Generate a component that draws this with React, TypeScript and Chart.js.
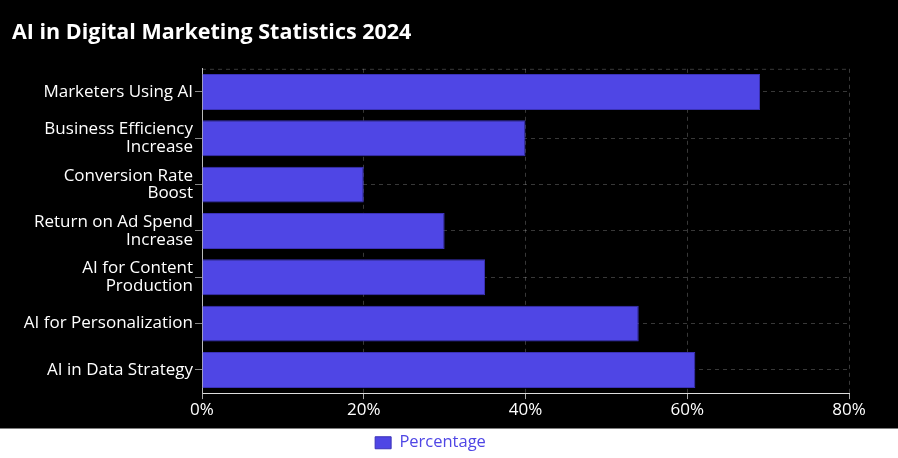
import React, { useEffect, useRef } from "react";
import { Chart, registerables } from "chart.js";

Chart.register(...registerables);

const TITLE = "AI in Digital Marketing Statistics 2024";
const SERIES_LABEL = "Percentage";
const categories: (string | string[])[] = [
  "Marketers Using AI",
  ["Business Efficiency", "Increase"],
  ["Conversion Rate", "Boost"],
  ["Return on Ad Spend", "Increase"],
  ["AI for Content", "Production"],
  "AI for Personalization",
  "AI in Data Strategy",
];
const percentages = [69, 40, 20, 30, 35, 54, 61];
const xMax = 80;
const xStep = 20;

const FONT = "'Open Sans', 'Noto Sans', sans-serif";
const BAR = "#4f46e5";
const BAR_BORDER = "#3b32b8";
const GRID = "rgba(255,255,255,0.22)";

const bgPlugin = {
  id: "bg",
  beforeDraw(chart: any) {
    const { ctx, width, height } = chart;
    const top = chart.legend ? chart.legend.top : chart.scales.x.bottom;
    ctx.save();
    ctx.fillStyle = "#ffffff";
    ctx.fillRect(0, 0, width, height);
    ctx.fillStyle = "#000000";
    ctx.fillRect(0, 0, width, top + 2);
    ctx.restore();
  },
  beforeDatasetsDraw(chart: any) {
    const { ctx, chartArea } = chart;
    ctx.save();
    ctx.strokeStyle = GRID;
    ctx.lineWidth = 1;
    ctx.setLineDash([4, 4]);
    ctx.beginPath();
    ctx.moveTo(chartArea.left, chartArea.top + 0.5);
    ctx.lineTo(chartArea.right, chartArea.top + 0.5);
    ctx.stroke();
    ctx.restore();
  },
};

export default function App() {
  const ref = useRef<HTMLCanvasElement | null>(null);
  useEffect(() => {
    document.body.style.margin = "0";
    if (!ref.current) return;
    const chart = new Chart(ref.current, {
      type: "bar",
      data: {
        labels: categories,
        datasets: [
          {
            label: SERIES_LABEL,
            data: percentages,
            backgroundColor: BAR,
            borderColor: BAR_BORDER,
            borderWidth: 1,
            categoryPercentage: 0.8,
            barPercentage: 0.97,
          },
        ],
      },
      options: {
        indexAxis: "y",
        responsive: false,
        animation: false,
        layout: { padding: { left: 12, right: 49, top: 0, bottom: -3 } },
        plugins: {
          title: {
            display: true,
            text: TITLE,
            align: "start",
            color: "#ffffff",
            font: { family: FONT, size: 21.5, weight: "bold" },
            padding: { top: 20, bottom: 23 },
          },
          legend: {
            position: "bottom",
            labels: {
              color: BAR,
              font: { family: FONT, size: 16.5 },
              boxWidth: 16,
              boxHeight: 12,
              padding: 8,
            },
          },
          tooltip: { enabled: false },
        },
        scales: {
          x: {
            min: 0,
            max: xMax,
            afterFit: (scale: any) => {
              scale.height = scale.height + 5;
            },
            ticks: {
              stepSize: xStep,
              color: "#ffffff",
              font: { family: FONT, size: 17 },
              padding: 1,
              callback: (v: any) => v + "%",
            },
            grid: { color: GRID, tickColor: "#aaaaaa", tickLength: 6 },
            border: { color: "#dddddd", dash: [4, 4] },
          },
          y: {
            afterFit: (scale: any) => {
              scale.width = 190;
            },
            ticks: {
              color: "#ffffff",
              font: { family: FONT, size: 17, lineHeight: 1.05 },
              padding: 2,
            },
            grid: { color: GRID, tickColor: "#888888", offset: false, tickLength: 7 },
            border: { color: "#bbbbbb", dash: [4, 4] },
          },
        },
      },
      plugins: [bgPlugin],
    });
    return () => chart.destroy();
  }, []);
  return (
    <div style={{ width: 898, height: 458 }}>
      <canvas ref={ref} width={898} height={458} />
    </div>
  );
}
